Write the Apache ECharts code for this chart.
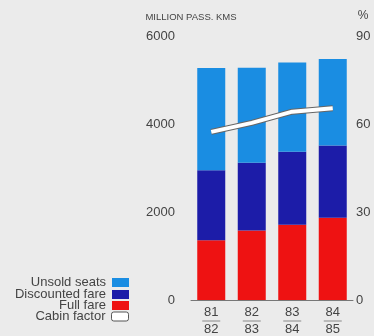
<!DOCTYPE html>
<html>
<head>
<meta charset="utf-8">
<script src="https://cdn.jsdelivr.net/npm/echarts@6/dist/echarts.min.js"></script>
<style>
  html, body { margin: 0; padding: 0; background: #ebebeb; }
  #chart { width: 374px; height: 336px; }
</style>
</head>
<body>
<div id="chart"></div>
<script>
// financial years, e.g. 81/82
const years = ['81/82', '82/83', '83/84', '84/85']
// million passenger kms
const fullFare = [1360, 1580, 1710, 1870]
const discountedFare = [1590, 1540, 1660, 1640]
const unsoldSeats = [2320, 2160, 2030, 1970]
// cabin factor, %
const cabinFactor = [57.3, 60.4, 64.2, 65.4]

const font = 'Liberation Sans'
const textColor = '#444'
const colors = {
    unsold: '#1a8de2',
    discounted: '#1c1ca8',
    full: '#ee1212'
}

const chart = echarts.init(document.getElementById('chart'))

// one legend per row so the text can be right aligned against the swatch
const legendRows = [
    { name: 'Unsold seats', top: 271 },
    { name: 'Discounted fare', top: 283 },
    { name: 'Full fare', top: 294 },
    { name: 'Cabin factor', top: 305, icon: 'roundRect', itemStyle: { color: '#fff', borderColor: '#555', borderWidth: 1 } }
]

const option = {
    backgroundColor: '#ebebeb',
    animation: false,
    textStyle: { fontFamily: font },
    legend: legendRows.map(r => ({
        right: 240,
        top: r.top,
        align: 'right',
        itemWidth: 17,
        itemHeight: 9,
        itemGap: 0,
        selectedMode: false,
        textStyle: { fontFamily: font, fontSize: 13, color: textColor, padding: [0, 1, 0, 0] },
        data: [r.icon ? { name: r.name, icon: r.icon, itemStyle: r.itemStyle } : { name: r.name, icon: 'rect' }]
    })),
    grid: { left: 191, right: 21, top: 36, bottom: 36 },
    xAxis: {
        type: 'category',
        data: years,
        axisTick: { show: false },
        axisLine: { lineStyle: { color: '#777', width: 1 } },
        axisLabel: {
            margin: 6,
            formatter: v => {
                const [a, b] = v.split('/')
                return '{t|' + a + '}\n{l| }\n{t|' + b + '}'
            },
            rich: {
                t: { fontSize: 13, lineHeight: 13, color: textColor, fontFamily: font },
                l: { width: 18, height: 1, lineHeight: 4, backgroundColor: '#888', fontSize: 1 }
            }
        }
    },
    yAxis: [
        {
            type: 'value',
            min: 0,
            max: 6000,
            interval: 2000,
            name: 'MILLION PASS. KMS',
            nameGap: 14,
            nameTextStyle: { fontSize: 9.5, color: textColor, fontFamily: font },
            axisLine: { show: false },
            axisTick: { show: false },
            splitLine: { show: false },
            axisLabel: { fontSize: 13, color: textColor, margin: 16, formatter: v => String(v) }
        },
        {
            type: 'value',
            min: 0,
            max: 90,
            interval: 30,
            name: '%',
            nameGap: 14,
            nameTextStyle: { fontSize: 12, color: textColor, fontFamily: font, padding: [0, 0, 0, 20] },
            axisLine: { show: false },
            axisTick: { show: false },
            splitLine: { show: false },
            axisLabel: { fontSize: 13, color: textColor, margin: 3 }
        }
    ],
    series: [
        {
            name: 'Full fare',
            type: 'bar',
            stack: 'kms',
            barWidth: 28,
            itemStyle: { color: colors.full },
            data: fullFare
        },
        {
            name: 'Discounted fare',
            type: 'bar',
            stack: 'kms',
            barWidth: 28,
            itemStyle: { color: colors.discounted },
            data: discountedFare
        },
        {
            name: 'Unsold seats',
            type: 'bar',
            stack: 'kms',
            barWidth: 28,
            itemStyle: { color: colors.unsold },
            data: unsoldSeats
        },
        {
            // dark outline under the white line
            name: 'outline',
            type: 'line',
            yAxisIndex: 1,
            symbol: 'none',
            lineStyle: { color: '#666', width: 6, join: 'round' },
            data: cabinFactor
        },
        {
            name: 'Cabin factor',
            type: 'line',
            yAxisIndex: 1,
            symbol: 'none',
            lineStyle: { color: '#fff', width: 4, join: 'round' },
            itemStyle: { color: '#fff' },
            data: cabinFactor
        }
    ]
}

chart.setOption(option)
</script>
</body>
</html>
